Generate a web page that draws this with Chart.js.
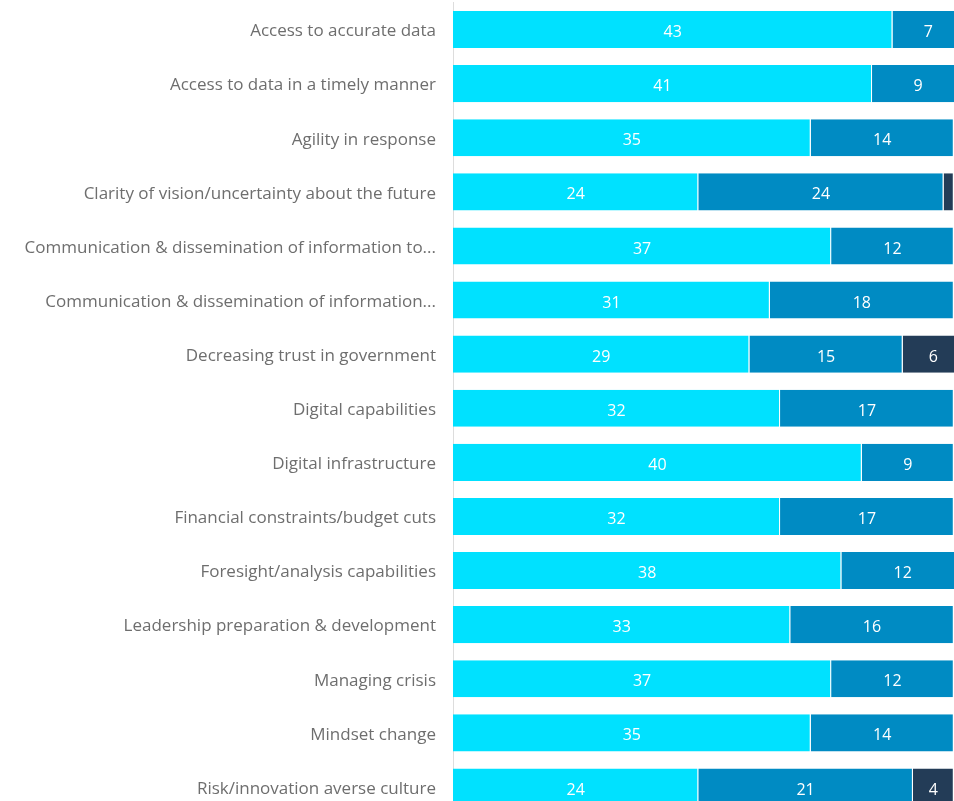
<!DOCTYPE html>
<html>
<head>
<meta charset="utf-8">
<script src="https://cdn.jsdelivr.net/npm/chart.js@4/dist/chart.umd.min.js"></script>
<style>
  html, body { margin: 0; padding: 0; background: #fff; overflow: hidden; }
  #wrap { width: 954px; height: 801px; overflow: hidden; position: relative; }
  canvas { position: absolute; left: 0; top: 0; }
</style>
</head>
<body>
<div id="wrap"><canvas id="chart" width="964" height="814"></canvas></div>
<script>
const CATEGORIES = [
  'Access to accurate data',
  'Access to data in a timely manner',
  'Agility in response',
  'Clarity of vision/uncertainty about the future',
  'Communication & dissemination of information to...',
  'Communication & dissemination of information...',
  'Decreasing trust in government',
  'Digital capabilities',
  'Digital infrastructure',
  'Financial constraints/budget cuts',
  'Foresight/analysis capabilities',
  'Leadership preparation & development',
  'Managing crisis',
  'Mindset change',
  'Risk/innovation averse culture',
];

const SERIES_A = [43, 41, 35, 24, 37, 31, 29, 32, 40, 32, 38, 33, 37, 35, 24];
const SERIES_B = [7, 9, 14, 24, 12, 18, 15, 17, 9, 17, 12, 16, 12, 14, 21];
const SERIES_C = [0, 0, 0, 1, 0, 0, 6, 0, 0, 0, 0, 0, 0, 0, 4];

const COLORS = ['#00e1ff', '#008bc3', '#233c57'];
const FONT = '"Open Sans", "Noto Sans", sans-serif';

// draws the value in the middle of each segment, skips slivers
const valueLabels = {
  id: 'valueLabels',
  afterDatasetsDraw(chart) {
    const { ctx } = chart;
    ctx.save();
    ctx.font = `16px ${FONT}`;
    ctx.fillStyle = '#ffffff';
    ctx.textAlign = 'center';
    ctx.textBaseline = 'middle';
    chart.data.datasets.forEach((ds, di) => {
      chart.getDatasetMeta(di).data.forEach((bar, i) => {
        const v = ds.data[i];
        if (!v || Math.abs(bar.x - bar.base) < 20) return;
        ctx.fillText(String(v), (bar.x + bar.base) / 2, bar.y + 3);
      });
    });
    ctx.restore();
  },
};

function series(label, data, color) {
  return {
    label,
    data,
    backgroundColor: color,
    borderColor: '#ffffff',
    borderWidth: { top: 0, bottom: 0, left: 0, right: 1 },
    borderSkipped: false,
    barPercentage: 0.685,
    categoryPercentage: 1,
  };
}

new Chart(document.getElementById('chart'), {
  type: 'bar',
  data: {
    labels: CATEGORIES,
    datasets: [
      series('A', SERIES_A, COLORS[0]),
      series('B', SERIES_B, COLORS[1]),
      series('C', SERIES_C, COLORS[2]),
    ],
  },
  options: {
    indexAxis: 'y',
    responsive: false,
    animation: false,
    layout: { padding: { top: 2.5, left: 0, right: 0, bottom: 0 } },
    plugins: {
      legend: { display: false },
      tooltip: { enabled: false },
    },
    scales: {
      x: { display: false, stacked: true, min: 0, max: 50 },
      y: {
        stacked: true,
        grid: { display: false, drawTicks: false },
        border: { display: true, color: '#dddddd', width: 1 },
        ticks: {
          padding: 17,
          labelOffset: 2,
          color: '#6e6e6e',
          font: { family: FONT, size: 17 },
        },
        afterFit: (scale) => {
          scale.width = 453;
          scale.paddingTop = 0;
          scale.paddingBottom = 0;
        },
      },
    },
  },
  plugins: [valueLabels],
});
</script>
</body>
</html>
